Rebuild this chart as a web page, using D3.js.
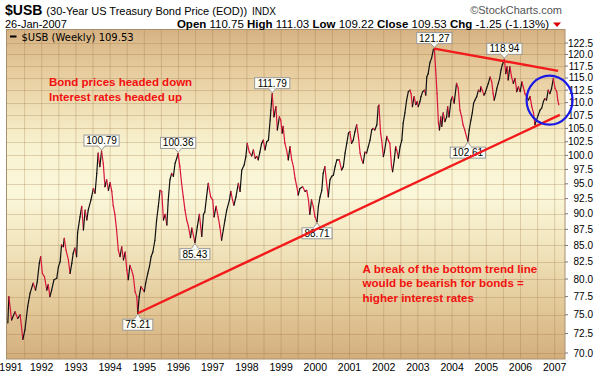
<!DOCTYPE html>
<html>
<head>
<meta charset="utf-8">
<script src="https://cdn.jsdelivr.net/npm/d3@7"></script>
<style>
  body { margin: 0; background: #fff; }
  svg { display: block; font-family: Arial, "Liberation Sans", sans-serif; }
</style>
</head>
<body>
<svg id="chart" width="600" height="376"></svg>
<script>
// weekly closes (decimal years)
const weekYears = [
  1991.01, 1991.04, 1991.12, 1991.22, 1991.30, 1991.37, 1991.45, 1991.51, 1991.59, 1991.66,
  1991.75, 1991.82, 1991.87, 1991.93, 1991.97, 1992.02, 1992.08, 1992.15, 1992.19, 1992.24,
  1992.29, 1992.36, 1992.44, 1992.49, 1992.54, 1992.58, 1992.63, 1992.66, 1992.71, 1992.78,
  1992.83, 1992.88, 1992.92, 1992.97, 1993.02, 1993.05, 1993.12, 1993.17, 1993.22, 1993.27,
  1993.32, 1993.36, 1993.44, 1993.51, 1993.56, 1993.61, 1993.65, 1993.70, 1993.75, 1993.80,
  1993.85, 1993.90, 1993.95, 1994.00, 1994.05, 1994.09, 1994.14, 1994.19, 1994.24, 1994.29,
  1994.34, 1994.39, 1994.44, 1994.49, 1994.53, 1994.58, 1994.63, 1994.68, 1994.73, 1994.78,
  1994.81, 1994.85, 1994.90, 1995.00, 1995.04, 1995.10, 1995.15, 1995.20, 1995.25, 1995.31,
  1995.36, 1995.41, 1995.46, 1995.51, 1995.56, 1995.61, 1995.66, 1995.70, 1995.75, 1995.80,
  1995.85, 1995.90, 1995.95, 1995.99, 1996.04, 1996.09, 1996.14, 1996.19, 1996.24, 1996.29,
  1996.35, 1996.39, 1996.48, 1996.55, 1996.61, 1996.68, 1996.73, 1996.77, 1996.82, 1996.87,
  1996.94, 1997.00, 1997.04, 1997.10, 1997.16, 1997.21, 1997.26, 1997.31, 1997.36, 1997.41,
  1997.49, 1997.53, 1997.58, 1997.62, 1997.68, 1997.75, 1997.80, 1997.85, 1997.92, 1997.97,
  1998.01, 1998.07, 1998.14, 1998.19, 1998.24, 1998.29, 1998.33, 1998.38, 1998.43, 1998.48,
  1998.53, 1998.58, 1998.63, 1998.68, 1998.70, 1998.74, 1998.79, 1998.85, 1998.89, 1998.95,
  1998.99, 1999.03, 1999.06, 1999.11, 1999.16, 1999.21, 1999.26, 1999.31, 1999.36, 1999.41,
  1999.46, 1999.50, 1999.55, 1999.63, 1999.70, 1999.75, 1999.80, 1999.84, 1999.89, 1999.94,
  1999.99, 2000.05, 2000.09, 2000.14, 2000.19, 2000.23, 2000.28, 2000.33, 2000.38, 2000.43,
  2000.48, 2000.53, 2000.58, 2000.63, 2000.70, 2000.77, 2000.82, 2000.87, 2000.92, 2000.97,
  2001.01, 2001.06, 2001.11, 2001.16, 2001.21, 2001.26, 2001.31, 2001.36, 2001.40, 2001.45,
  2001.50, 2001.55, 2001.60, 2001.65, 2001.69, 2001.74, 2001.80, 2001.84, 2001.86, 2001.91,
  2001.94, 2001.99, 2002.02, 2002.09, 2002.13, 2002.18, 2002.23, 2002.26, 2002.31, 2002.35,
  2002.38, 2002.43, 2002.48, 2002.53, 2002.57, 2002.62, 2002.67, 2002.72, 2002.77, 2002.80,
  2002.84, 2002.89, 2002.94, 2002.98, 2003.01, 2003.06, 2003.09, 2003.14, 2003.19, 2003.23,
  2003.26, 2003.30, 2003.35, 2003.40, 2003.45, 2003.48, 2003.52, 2003.56, 2003.60, 2003.63,
  2003.67, 2003.70, 2003.74, 2003.79, 2003.84, 2003.87, 2003.91, 2003.97, 2004.01, 2004.06,
  2004.10, 2004.13, 2004.18, 2004.23, 2004.28, 2004.32, 2004.37, 2004.42, 2004.46, 2004.50,
  2004.55, 2004.59, 2004.63, 2004.67, 2004.72, 2004.77, 2004.82, 2004.84, 2004.88, 2004.93,
  2004.96, 2005.01, 2005.06, 2005.11, 2005.16, 2005.20, 2005.23, 2005.27, 2005.31, 2005.35,
  2005.39, 2005.43, 2005.47, 2005.53, 2005.57, 2005.61, 2005.64, 2005.69, 2005.74, 2005.79,
  2005.84, 2005.89, 2005.94, 2005.99, 2006.04, 2006.08, 2006.13, 2006.18, 2006.23, 2006.28,
  2006.33, 2006.38, 2006.42, 2006.47, 2006.52, 2006.57, 2006.62, 2006.67, 2006.71, 2006.76,
  2006.81, 2006.86, 2006.91, 2006.96, 2007.01, 2007.06, 2007.09, 2007.12
];
const closes = [
  73.9, 77.5, 74.3, 75.4, 74.5, 75.0, 71.75, 73.0, 76.1, 78.0,
  79.4, 78.4, 79.6, 82.3, 83.3, 80.8, 80.35, 78.4, 79.2, 77.5,
  78.4, 79.9, 80.1, 81.8, 82.55, 85.1, 84.8, 86.1, 84.3, 82.8,
  80.8, 82.3, 83.8, 84.6, 83.3, 87.0, 89.5, 91.2, 87.4, 90.6,
  89.0, 90.6, 92.3, 94.2, 93.4, 96.8, 100.4, 98.0, 100.79, 98.6,
  94.5, 95.7, 93.9, 95.2, 93.7, 91.4, 89.9, 87.4, 84.3, 83.3,
  84.8, 82.8, 84.0, 81.3, 79.9, 82.0, 81.3, 80.4, 78.2, 77.5,
  75.21, 77.5, 78.9, 78.2, 79.4, 80.8, 81.8, 83.3, 84.0, 85.8,
  89.0, 91.2, 93.9, 93.7, 89.0, 89.9, 88.2, 92.3, 95.7, 96.8,
  96.3, 98.6, 99.5, 100.36, 98.0, 95.1, 92.8, 90.6, 89.0, 88.0,
  86.2, 87.7, 85.43, 87.9, 89.9, 86.4, 89.9, 90.3, 92.8, 95.1,
  92.8, 92.3, 89.5, 91.2, 89.5, 87.9, 85.8, 87.4, 89.0, 90.6,
  92.3, 93.7, 92.3, 91.4, 92.8, 95.1, 93.7, 97.4, 98.3, 99.8,
  102.2, 100.6, 99.9, 101.0, 99.5, 99.8, 99.2, 100.6, 102.2, 102.8,
  101.0, 102.5, 102.8, 106.6, 108.5, 111.79, 107.2, 109.2, 104.7, 107.2,
  106.6, 104.1, 105.4, 102.2, 101.0, 99.2, 101.6, 99.2, 98.0, 95.9,
  94.5, 93.1, 94.2, 94.5, 93.7, 93.9, 92.3, 89.9, 92.3, 91.2,
  89.5, 88.71, 91.2, 92.8, 93.9, 96.8, 98.0, 95.2, 92.8, 95.7,
  96.3, 96.5, 98.0, 99.2, 99.2, 97.4, 98.0, 100.4, 102.2, 104.1,
  104.4, 102.2, 102.8, 104.4, 105.7, 103.5, 100.4, 99.2, 98.6, 100.6,
  100.4, 101.6, 102.8, 104.7, 105.0, 104.7, 105.7, 109.2, 109.5, 104.1,
  102.8, 99.8, 100.6, 103.5, 102.8, 102.2, 98.0, 97.1, 99.2, 101.6,
  101.0, 99.5, 101.6, 102.8, 106.0, 108.0, 110.5, 112.2, 112.5, 111.8,
  109.2, 111.2, 109.6, 110.2, 109.2, 110.2, 111.2, 112.2, 112.5, 111.5,
  115.2, 115.9, 118.2, 119.2, 121.0, 121.27, 116.7, 111.8, 106.0, 104.7,
  107.2, 105.4, 108.0, 106.3, 107.2, 109.2, 107.2, 110.5, 111.2, 109.9,
  112.2, 113.9, 112.9, 108.5, 107.2, 105.7, 104.7, 103.5, 102.61, 104.7,
  106.6, 108.0, 109.9, 110.5, 111.2, 112.5, 112.2, 113.2, 112.5, 111.5,
  111.8, 112.9, 113.9, 115.2, 114.2, 111.8, 110.5, 111.5, 112.9, 113.9,
  114.9, 116.7, 117.8, 118.94, 115.9, 117.4, 114.6, 117.4, 115.2, 113.9,
  114.9, 112.2, 113.2, 112.2, 114.2, 113.2, 111.8, 111.2, 110.5, 111.2,
  109.2, 108.0, 105.7, 106.6, 107.6, 108.5, 108.9, 110.2, 110.8, 110.5,
  112.5, 111.8, 112.9, 114.9, 112.9, 112.2, 110.5, 109.53
];

const yearTicks = [1991, 1992, 1993, 1994, 1995, 1996, 1997, 1998, 1999,
  2000, 2001, 2002, 2003, 2004, 2005, 2006, 2007];
const priceTicks = [70, 72.5, 75, 77.5, 80, 82.5, 85, 87.5, 90, 92.5, 95, 97.5,
  100, 102.5, 105, 107.5, 110, 112.5, 115, 117.5, 120, 122.5];

// labelled highs and lows
const markYears = [1993.75, 1995.99, 1996.48, 1994.81, 1998.74, 2000.05, 2003.48, 2004.46, 2005.53];
const markValues = [100.79, 100.36, 85.43, 75.21, 111.79, 88.71, 121.27, 102.61, 118.94];
const markSides = ["high", "high", "low", "low", "high", "low", "high", "low", "high"];

// hand-drawn trend lines (start/end as [year, price])
const lowerTrend = [[1994.81, 75.21], [2007.15, 107.6]];
const upperTrend = [[2003.48, 121.27], [2007.10, 116.5]];

const svg = d3.select("#chart");
const plot = { left: 6.5, right: 565, top: 29.5, bottom: 359 };

const x = d3.scaleLinear().domain([1991, 2007]).range([7.5, 554.7]);
const y = d3.scaleLog().domain([70, 122.5]).range([353, 43]);

// background gradient
const defs = svg.append("defs");
const grad = defs.append("linearGradient")
  .attr("id", "bg").attr("x1", 0).attr("y1", 0).attr("x2", 0).attr("y2", 1);
[["0%", "#d6b283"], ["12%", "#e6cb9c"], ["35%", "#f8f2cf"], ["50%", "#fbf7da"],
 ["65%", "#f2e6bf"], ["85%", "#e2c797"], ["100%", "#d3ae7d"]].forEach(([o, c]) => {
  grad.append("stop").attr("offset", o).attr("stop-color", c);
});

svg.append("rect")
  .attr("x", plot.left).attr("y", plot.top)
  .attr("width", plot.right - plot.left).attr("height", plot.bottom - plot.top)
  .attr("fill", "url(#bg)");

// grid
const halfYears = d3.range(1991.5, 2007.01, 0.5);
svg.append("g")
  .selectAll("line")
  .data(halfYears)
  .join("line")
  .attr("x1", d => x(d)).attr("x2", d => x(d))
  .attr("y1", plot.top).attr("y2", plot.bottom)
  .attr("stroke", "rgba(150,110,60,0.28)").attr("stroke-width", 1);

svg.append("g")
  .selectAll("line")
  .data(priceTicks)
  .join("line")
  .attr("x1", plot.left).attr("x2", plot.right)
  .attr("y1", d => Math.round(y(d)) + 0.5).attr("y2", d => Math.round(y(d)) + 0.5)
  .attr("stroke", "rgba(150,110,60,0.28)").attr("stroke-width", 1);

svg.append("rect")
  .attr("x", plot.left).attr("y", plot.top)
  .attr("width", plot.right - plot.left).attr("height", plot.bottom - plot.top)
  .attr("fill", "none").attr("stroke", "#a88f70").attr("stroke-width", 1);

// right axis
const yAxis = svg.append("g").attr("transform", `translate(${plot.right},0)`);
yAxis.selectAll("line")
  .data(priceTicks)
  .join("line")
  .attr("x1", 0).attr("x2", 3)
  .attr("y1", d => y(d)).attr("y2", d => y(d))
  .attr("stroke", "#777");
yAxis.selectAll("text")
  .data(priceTicks)
  .join("text")
  .attr("x", 28).attr("y", d => y(d))
  .attr("dy", "0.35em")
  .attr("text-anchor", "end")
  .attr("font-size", "10px")
  .attr("fill", "#000")
  .text(d => d.toFixed(1));

// bottom year labels (first one kept inside the page)
svg.append("g")
  .selectAll("text")
  .data(yearTicks)
  .join("text")
  .attr("x", d => Math.max(x(d), 11)).attr("y", 370.5)
  .attr("text-anchor", "middle")
  .attr("font-size", "10.5px")
  .attr("fill", "#000")
  .text(d => d);

// price line, black on up weeks and red on down weeks
const pts = weekYears.map((t, i) => ({ t, v: closes[i] }));
svg.append("g")
  .selectAll("line")
  .data(pts.slice(1))
  .join("line")
  .attr("x1", (d, i) => x(pts[i].t)).attr("y1", (d, i) => y(pts[i].v))
  .attr("x2", d => x(d.t)).attr("y2", d => y(d.v))
  .attr("stroke", (d, i) => d.v >= pts[i].v ? "#111" : "#d8163c")
  .attr("stroke-width", 1.2)
  .attr("stroke-linecap", "round");

// value callouts
const marks = markYears.map((t, i) => ({ t, v: markValues[i], side: markSides[i] }));
const callout = svg.append("g").selectAll("g").data(marks).join("g")
  .attr("transform", d => `translate(${x(d.t)},${y(d.v)})`);
callout.each(function (d) {
  const g = d3.select(this);
  const label = d.v.toFixed(2);
  const w = label.length * 5.2 + 4, h = 11;
  const s = d.side === "high" ? -1 : 1;
  const by = s < 0 ? -5 - h : 6;
  g.append("rect")
    .attr("x", -w / 2).attr("y", by).attr("width", w).attr("height", h)
    .attr("fill", "#fffff8").attr("stroke", "#999").attr("stroke-width", 1);
  g.append("path")
    .attr("d", s < 0 ? "M-4,-5.5 L0,-1 L4,-5.5 Z" : "M-4,6.5 L0,1 L4,6.5 Z")
    .attr("fill", "#fffff8").attr("stroke", "#999").attr("stroke-width", 1);
  g.append("rect")
    .attr("x", -3.5).attr("y", s < 0 ? -6.5 : 5.5).attr("width", 7).attr("height", 1.5)
    .attr("fill", "#fffff8");
  g.append("text")
    .attr("x", 0).attr("y", by + h - 2)
    .attr("text-anchor", "middle")
    .attr("font-size", "10px")
    .attr("fill", "#000")
    .text(label);
});

// trend lines and circle
[lowerTrend, upperTrend].forEach(seg => {
  svg.append("line")
    .attr("x1", x(seg[0][0])).attr("y1", y(seg[0][1]))
    .attr("x2", x(seg[1][0])).attr("y2", y(seg[1][1]))
    .attr("stroke", "#f21a1a").attr("stroke-width", 2.4);
});
svg.append("ellipse")
  .attr("cx", x(2006.85)).attr("cy", y(110.5))
  .attr("rx", 23).attr("ry", 24.5)
  .attr("fill", "none").attr("stroke", "#1a1ae6").attr("stroke-width", 2.2);

// annotations
const note1 = svg.append("text").attr("font-size", "11.5px").attr("font-weight", "bold").attr("fill", "#f21010");
note1.append("tspan").attr("x", 49).attr("y", 86).text("Bond prices headed down");
note1.append("tspan").attr("x", 49).attr("y", 100.5).text("Interest rates headed up");

const note2 = svg.append("text").attr("font-size", "11.6px").attr("font-weight", "bold").attr("fill", "#f21010");
note2.append("tspan").attr("x", 362.5).attr("y", 273).text("A break of the bottom trend line");
note2.append("tspan").attr("x", 362.5).attr("y", 287.3).text("would be bearish for bonds =");
note2.append("tspan").attr("x", 362.5).attr("y", 301.6).text("higher interest rates");

// legend
svg.append("line").attr("x1", 10).attr("x2", 16.5).attr("y1", 36.5).attr("y2", 36.5)
  .attr("stroke", "#000").attr("stroke-width", 2);
svg.append("text").attr("x", 21.5).attr("y", 40.5)
  .attr("font-family", "'DejaVu Sans', sans-serif").attr("font-size", "10px").attr("fill", "#000")
  .text("$USB (Weekly) 109.53");

// header
const h1 = svg.append("text").attr("x", 5).attr("y", 14.5).attr("fill", "#000");
h1.append("tspan").attr("font-size", "14px").attr("font-weight", "bold")
  .attr("font-family", "'Liberation Sans Narrow', Arial, sans-serif").text("$USB");
h1.append("tspan").attr("dx", 4).attr("font-size", "11px").text("(30-Year US Treasury Bond Price (EOD))");
h1.append("tspan").attr("dx", 5).attr("font-size", "10px").text("INDX");

svg.append("text").attr("x", 562).attr("y", 14).attr("text-anchor", "end")
  .attr("font-size", "11px").attr("fill", "#555").text("\u00a9StockCharts.com");

svg.append("text").attr("x", 5).attr("y", 28).attr("font-size", "11px").attr("fill", "#000")
  .text("26-Jan-2007");

const quote = svg.append("text").attr("x", 549).attr("y", 28).attr("text-anchor", "end")
  .attr("font-size", "11px").attr("fill", "#000");
[["Open", true], [" 110.75 ", false], ["High", true], [" 111.03 ", false], ["Low", true],
 [" 109.22 ", false], ["Close", true], [" 109.53 ", false], ["Chg", true], [" -1.25 (-1.13%)", false]]
  .forEach(([s, b]) => {
    quote.append("tspan").attr("font-weight", b ? "bold" : "normal")
      .attr("font-size", "11.5px").text(s);
  });
svg.append("path").attr("d", "M553,22.5 L561,22.5 L557,27 Z").attr("fill", "#d00");
</script>
</body>
</html>
